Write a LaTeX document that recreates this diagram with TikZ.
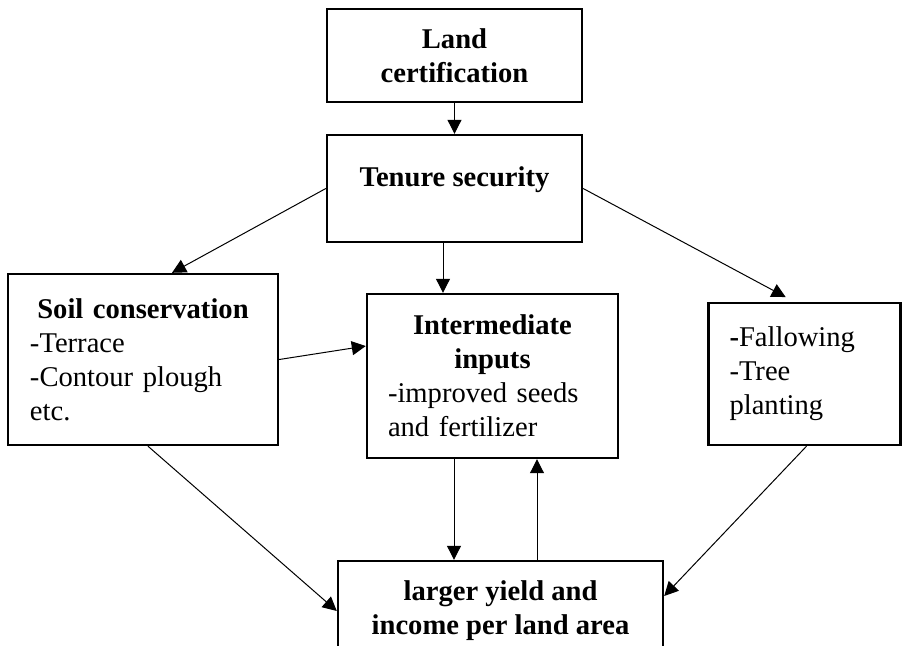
\documentclass[tikz,border=0pt]{standalone}
\usepackage{fontspec}
\setmainfont{Liberation Serif}
\usepackage{tikz}
\usetikzlibrary{arrows.meta}
\setlength\parindent{0pt}

\begin{document}
\begin{tikzpicture}[x=0.5pt, y=-0.5pt, main/.style={draw, line width=1.2pt, inner sep=0pt}, >={Triangle[length=7pt,width=7pt]}, every node/.style={font=\fontsize{14.3}{17}\selectfont}, line width=0.5pt]
		\useasboundingbox (0,0) rectangle (902,645);

		\node[main, minimum width=127.5pt, minimum height=46.5pt, align=center] (1) at (454.5,55.5) {\textbf{Land}\\\textbf{certification}};
		\node[main, minimum width=127.5pt, minimum height=53.5pt, text depth=12pt] (2) at (454.5,188.5) {\textbf{Tenure security}};
		\node[main, minimum width=135pt, minimum height=85.5pt, text width=113pt, align=left] (3) at (143,359.5) {{\centering\textbf{Soil conservation}\par}-Terrace\\-Contour plough\\etc.};
		\node[main, minimum width=125.5pt, minimum height=82pt, text width=104.5pt, align=left] (4) at (492.5,376) {{\centering\textbf{Intermediate}\\\textbf{inputs}\par}-improved seeds\\and fertilizer};
		\node[main, minimum width=96pt, minimum height=71pt, text width=75pt, align=left] (5) at (804.5,374) {\textbf{-}Fallowing\\-Tree\\planting};
		\node[main, minimum width=162.5pt, minimum height=50pt, align=center] (6) at (500.5,611) {\textbf{larger yield and}\\\textbf{income per land area}};

		\draw[->] (1) to (2);
		\draw[->] (2.west) to ([xshift=14.5pt]3.north);
		\draw[->] ([xshift=-5.75pt]2.south) to ([xshift=-5.75pt]2.south |- 4.north);
		\draw[->, shorten >=5pt] (2.east) to ([xshift=-5pt]5.north);
		\draw[->] (3.east) to ([yshift=15pt]4.west);
		\draw[->] ([xshift=-19.25pt]4.south) to ([xshift=-19.25pt]4.south |- 6.north);
		\draw[->] ([xshift=22.25pt]4.south |- 6.north) to ([xshift=22.25pt]4.south);
		\draw[->] ([xshift=2.5pt]3.south) to (6.west);
		\draw[->] ([xshift=1pt]5.south) to ([yshift=7.5pt]6.east);
	\end{tikzpicture}
\end{document}
